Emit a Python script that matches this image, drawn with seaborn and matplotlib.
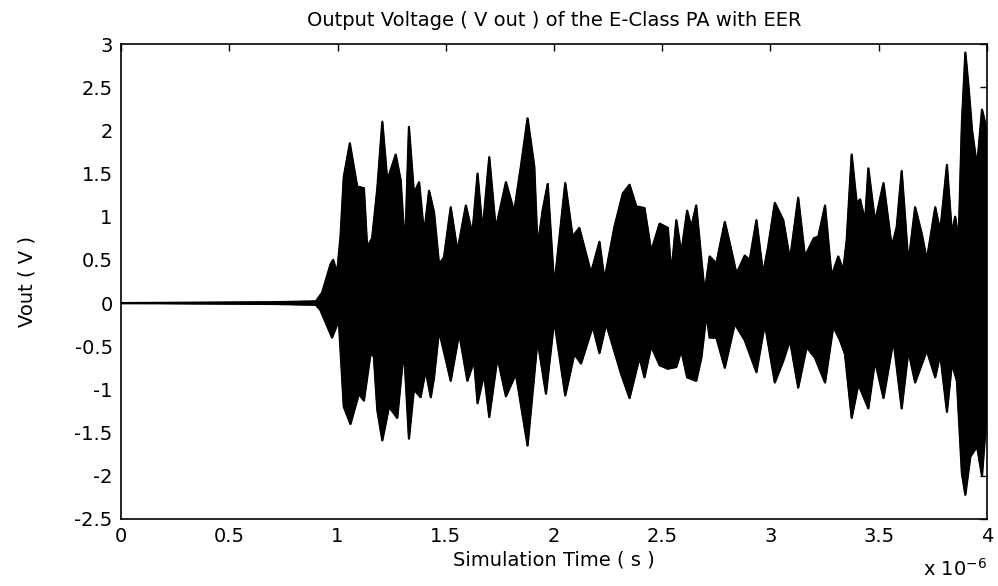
import numpy as np
import matplotlib
matplotlib.use("Agg")
import matplotlib.pyplot as plt
import seaborn as sns

# Envelope of the output voltage (time in units of 1e-6 s, volts)
upper_t = [0.0, 0.70, 0.90, 0.929, 0.968, 0.980, 0.998, 1.014, 1.029, 1.057, 1.091, 1.122, 1.137,
           1.160, 1.184, 1.207, 1.230, 1.269, 1.292, 1.312, 1.330, 1.353, 1.377, 1.400, 1.423,
           1.446, 1.469, 1.492, 1.523, 1.554, 1.593, 1.623, 1.647, 1.670, 1.701, 1.731, 1.778,
           1.816, 1.847, 1.878, 1.909, 1.924, 1.948, 1.971, 2.001, 2.052, 2.086, 2.117, 2.171,
           2.210, 2.233, 2.279, 2.318, 2.349, 2.380, 2.418, 2.449, 2.488, 2.526, 2.542, 2.565,
           2.588, 2.615, 2.634, 2.657, 2.681, 2.696, 2.719, 2.750, 2.789, 2.812, 2.843, 2.881,
           2.904, 2.935, 2.966, 2.989, 3.020, 3.059, 3.090, 3.128, 3.159, 3.200, 3.221, 3.252,
           3.282, 3.313, 3.336, 3.352, 3.375, 3.398, 3.414, 3.437, 3.452, 3.483, 3.522, 3.560,
           3.583, 3.606, 3.637, 3.668, 3.699, 3.722, 3.761, 3.784, 3.815, 3.838, 3.853, 3.869,
           3.884, 3.900, 3.915, 3.931, 3.954, 3.977, 3.992, 4.0]
upper_v = [0.0, 0.01, 0.02, 0.12, 0.45, 0.50, 0.35, 0.77, 1.46, 1.85, 1.35, 1.33, 0.65,
           0.75, 1.33, 2.10, 1.42, 1.72, 1.42, 0.61, 2.04, 1.27, 1.40, 0.80, 1.30,
           1.05, 0.45, 0.53, 1.11, 0.60, 1.13, 0.80, 1.50, 0.83, 1.69, 0.86, 1.40,
           1.06, 1.58, 2.14, 1.58, 0.65, 1.08, 1.38, 0.19, 1.39, 0.77, 0.87, 0.35,
           0.71, 0.27, 0.88, 1.27, 1.37, 1.12, 1.10, 0.60, 0.92, 0.87, 0.34, 0.96,
           0.58, 1.07, 0.88, 1.13, 0.50, 0.12, 0.54, 0.46, 0.94, 0.69, 0.34, 0.55,
           0.50, 0.96, 0.34, 0.65, 1.16, 0.96, 0.50, 1.22, 0.54, 0.75, 0.77, 1.13,
           0.31, 0.54, 0.38, 0.73, 1.72, 1.16, 1.20, 0.95, 1.56, 0.94, 1.39, 0.65,
           0.88, 1.53, 0.46, 1.11, 0.80, 0.50, 1.11, 0.83, 1.60, 0.80, 1.00, 0.73,
           2.08, 2.90, 2.50, 2.00, 1.58, 2.24, 2.08, 1.70]

lower_t = [0.0, 0.70, 0.90, 0.921, 0.975, 1.006, 1.029, 1.060, 1.099, 1.122, 1.153, 1.168, 1.184,
           1.207, 1.238, 1.276, 1.307, 1.330, 1.353, 1.384, 1.407, 1.431, 1.446, 1.469, 1.523,
           1.562, 1.600, 1.631, 1.647, 1.677, 1.701, 1.739, 1.778, 1.824, 1.878, 1.924, 1.963,
           2.001, 2.052, 2.094, 2.125, 2.179, 2.210, 2.241, 2.310, 2.349, 2.395, 2.418, 2.449,
           2.488, 2.526, 2.565, 2.588, 2.615, 2.657, 2.681, 2.704, 2.719, 2.750, 2.789, 2.835,
           2.881, 2.935, 2.974, 3.020, 3.059, 3.090, 3.128, 3.167, 3.205, 3.252, 3.290, 3.321,
           3.344, 3.375, 3.406, 3.452, 3.483, 3.522, 3.568, 3.606, 3.637, 3.668, 3.722, 3.761,
           3.784, 3.815, 3.838, 3.861, 3.884, 3.900, 3.923, 3.954, 3.977, 3.992, 4.0]
lower_v = [0.0, -0.01, -0.02, -0.08, -0.40, -0.20, -1.20, -1.40, -1.05, -1.13, -0.58, -0.62, -1.24,
           -1.59, -1.20, -1.33, -0.53, -1.57, -1.00, -1.09, -0.78, -1.09, -0.86, -0.32, -0.90,
           -0.35, -0.90, -0.67, -1.16, -0.82, -1.32, -0.63, -1.08, -0.82, -1.65, -0.43, -1.05,
           -0.20, -1.07, -0.59, -0.70, -0.27, -0.58, -0.24, -0.82, -1.10, -0.63, -0.86, -0.50,
           -0.72, -0.76, -0.74, -0.55, -0.86, -0.90, -0.63, -0.13, -0.40, -0.40, -0.75, -0.24,
           -0.43, -0.80, -0.24, -0.92, -0.67, -0.43, -0.98, -0.51, -0.63, -0.92, -0.27, -0.43,
           -0.59, -1.33, -0.94, -1.22, -0.67, -1.10, -0.43, -1.22, -0.55, -0.92, -0.55, -0.86,
           -0.59, -1.26, -0.70, -0.90, -1.97, -2.22, -1.78, -1.66, -2.00, -1.50, -1.30]

x_ticks = [0, 0.5, 1, 1.5, 2, 2.5, 3, 3.5, 4]
x_tick_labels = ["0", "0.5", "1", "1.5", "2", "2.5", "3", "3.5", "4"]
y_ticks = [-2.5, -2, -1.5, -1, -0.5, 0, 0.5, 1, 1.5, 2, 2.5, 3]
y_tick_labels = ["-2.5", "-2", "-1.5", "-1", "-0.5", "0", "0.5", "1", "1.5", "2", "2.5", "3"]

sns.set_theme(style="white")
plt.rcParams['font.family'] = ['DejaVu Sans']
FS = 14

fig = plt.figure(figsize=(9.98, 5.86), dpi=100)
ax = fig.add_axes([121 / 998, (586 - 519) / 586, 866 / 998, 475 / 586])

poly_t = np.concatenate([upper_t, lower_t[::-1]])
poly_v = np.concatenate([upper_v, lower_v[::-1]])
ax.fill(poly_t, poly_v, color="black", lw=1.0)
sns.lineplot(x=upper_t, y=upper_v, ax=ax, color="black", lw=1.6, estimator=None)
sns.lineplot(x=lower_t, y=lower_v, ax=ax, color="black", lw=1.6, estimator=None)

ax.set_xlim(0, 4)
ax.set_ylim(-2.5, 3)
ax.set_xticks(x_ticks)
ax.set_xticklabels(x_tick_labels, fontsize=FS, color="black")
ax.set_yticks(y_ticks)
ax.set_yticklabels(y_tick_labels, fontsize=FS, color="black")
ax.tick_params(direction="in", length=5, width=1, top=True, right=True, colors="black",
               labelcolor="black", pad=6)
for s in ax.spines.values():
    s.set_visible(True)
    s.set_color("black")
    s.set_linewidth(1.2)

ax.set_title("Output Voltage ( V out ) of the E-Class PA with EER", fontsize=FS, pad=13,
             color="black")
ax.set_xlabel("Simulation Time ( s )", fontsize=FS, color="black")
ax.set_ylabel("Vout ( V )", fontsize=FS, color="black")
ax.xaxis.set_label_coords(0.5, -0.066)
ax.yaxis.set_label_coords(-0.097, 0.5)
fig.text(923 / 998, 0.010, r"x 10$^{-6}$", fontsize=FS, color="black", ha="left", va="bottom")

fig.savefig("out.png", dpi=100, facecolor="white")
